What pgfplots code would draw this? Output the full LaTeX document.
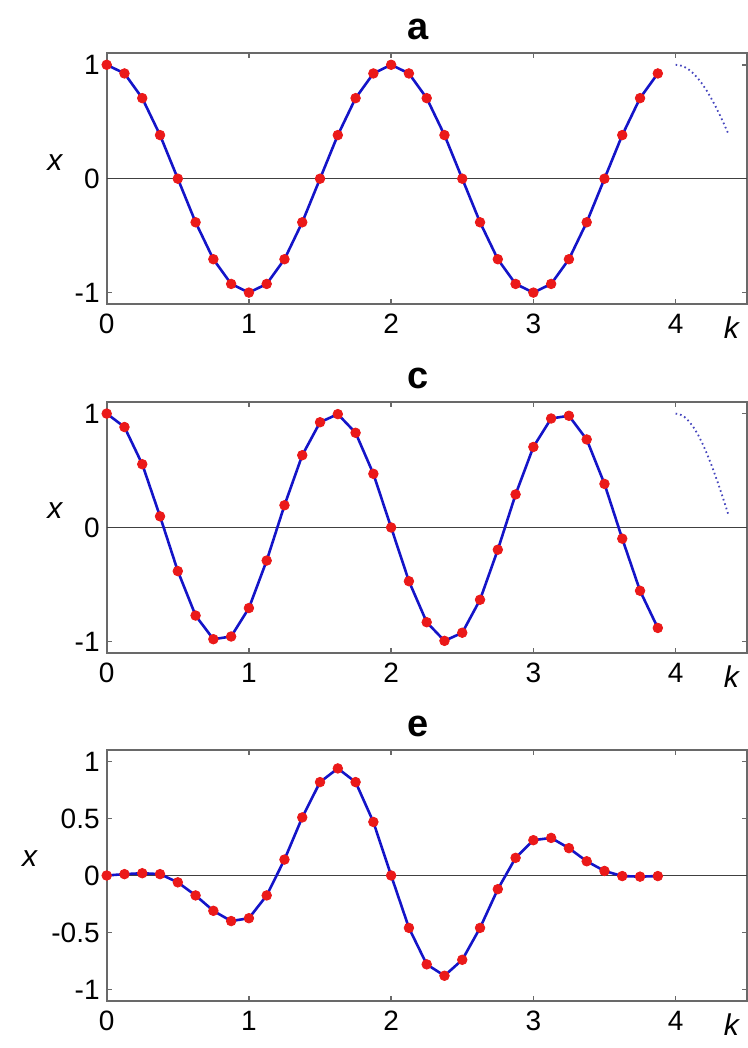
\documentclass[border=0pt]{standalone}
\usepackage{fontspec}
\setmainfont{Liberation Sans}
\usepackage{pgfplots}
\usepackage{pgfplotstable}
\pgfplotsset{compat=1.18}

\definecolor{mblue}{RGB}{20,20,200}
\definecolor{mred}{RGB}{235,25,25}
\definecolor{framegray}{RGB}{105,105,105}
\definecolor{dotblue}{RGB}{70,70,190}

\pgfplotstableread{
k x
0 1
0.125 0.9239
0.25 0.7071
0.375 0.3827
0.5 0
0.625 -0.3827
0.75 -0.7071
0.875 -0.9239
1 -1
1.125 -0.9239
1.25 -0.7071
1.375 -0.3827
1.5 0
1.625 0.3827
1.75 0.7071
1.875 0.9239
2 1
2.125 0.9239
2.25 0.7071
2.375 0.3827
2.5 0
2.625 -0.3827
2.75 -0.7071
2.875 -0.9239
3 -1
3.125 -0.9239
3.25 -0.7071
3.375 -0.3827
3.5 0
3.625 0.3827
3.75 0.7071
3.875 0.9239
}\dataA

\pgfplotstableread{
k x
4 1
4.03125 0.9952
4.0625 0.9808
4.09375 0.9569
4.125 0.9239
4.15625 0.8819
4.1875 0.8315
4.21875 0.7730
4.25 0.7071
4.28125 0.6344
4.3125 0.5556
4.34375 0.4714
4.375 0.3827
}\dotA

\pgfplotstableread{
k x
0 1
0.125 0.8819
0.25 0.5556
0.375 0.0980
0.5 -0.3827
0.625 -0.7730
0.75 -0.9808
0.875 -0.9569
1 -0.7071
1.125 -0.2903
1.25 0.1951
1.375 0.6344
1.5 0.9239
1.625 0.9952
1.75 0.8315
1.875 0.4714
2 0
2.125 -0.4714
2.25 -0.8315
2.375 -0.9952
2.5 -0.9239
2.625 -0.6344
2.75 -0.1951
2.875 0.2903
3 0.7071
3.125 0.9569
3.25 0.9808
3.375 0.7730
3.5 0.3827
3.625 -0.0980
3.75 -0.5556
3.875 -0.8819
}\dataC

\pgfplotstableread{
k x
4 1
4.03125 0.9925
4.0625 0.9700
4.09375 0.9330
4.125 0.8819
4.15625 0.8176
4.1875 0.7410
4.21875 0.6532
4.25 0.5556
4.28125 0.4496
4.3125 0.3369
4.34375 0.2191
4.375 0.0980
}\dotC

\pgfplotstableread{
k x
0 0
0.125 0.012
0.25 0.02
0.375 0.012
0.5 -0.06
0.625 -0.175
0.75 -0.31
0.875 -0.40
1 -0.375
1.125 -0.175
1.25 0.14
1.375 0.51
1.5 0.82
1.625 0.94
1.75 0.82
1.875 0.47
2 0
2.125 -0.46
2.25 -0.78
2.375 -0.88
2.5 -0.74
2.625 -0.46
2.75 -0.12
2.875 0.155
3 0.31
3.125 0.33
3.25 0.24
3.375 0.125
3.5 0.04
3.625 -0.005
3.75 -0.01
3.875 -0.005
}\dataE

\pgfplotsset{
  panel/.style={
    scale only axis, width=320pt, height=125.3pt,
    xmin=0, xmax=4.5, ymin=-1.1, ymax=1.1,
    xtick={0,1,2,3,4},
    tick align=inside, major tick length=2.5pt,
    axis line style={draw=framegray, line width=1.1pt},
    every tick/.style={framegray, line width=0.8pt},
    tick label style={font=\fontsize{14}{16}\selectfont},
    xticklabel style={yshift=-1.5pt},
    /pgf/number format/assume math mode=true,
    xlabel={\itshape k}, ylabel={\itshape x},
    every axis x label/.style={at={(rel axis cs:0.976,0)}, anchor=north, yshift=-3pt, font=\fontsize{15}{17}\selectfont},
    every axis y label/.style={at={(rel axis cs:-0.081,0.566)}, anchor=center, font=\fontsize{15}{17}\selectfont},
    every axis title/.style={at={(rel axis cs:0.486,1)}, anchor=base, yshift=7pt, font=\bfseries\fontsize{19}{21}\selectfont},
    clip=false,
  },
  zeroline/.style={black!75, line width=0.8pt, forget plot},
  curve/.style={mblue, line width=1.3pt},
  dots/.style={only marks, mark=*, mark size=2.4pt, mred, mark options={fill=mred, draw=mred}},
  ext/.style={dotblue, line width=0.9pt, dash pattern=on 0.8pt off 1.5pt},
}

\begin{document}
\begin{tikzpicture}
\useasboundingbox (0,0) rectangle (374pt,524pt);

\begin{axis}[panel, at={(53.35pt,372pt)}, anchor=south west, title={a}, ytick={-1,0,1}]
\addplot[zeroline] coordinates {(0,0) (4.5,0)};
\addplot[curve] table[x=k,y=x] {\dataA};
\addplot[ext] table[x=k,y=x] {\dotA};
\addplot[dots] table[x=k,y=x] {\dataA};
\end{axis}

\begin{axis}[panel, at={(53.35pt,197.6pt)}, anchor=south west, title={c}, ytick={-1,0,1}]
\addplot[zeroline] coordinates {(0,0) (4.5,0)};
\addplot[curve] table[x=k,y=x] {\dataC};
\addplot[ext] table[x=k,y=x] {\dotC};
\addplot[dots] table[x=k,y=x] {\dataC};
\end{axis}

\begin{axis}[panel, at={(53.35pt,23.6pt)}, anchor=south west, title={e}, ytick={-1,-0.5,0,0.5,1},
  every axis y label/.style={at={(rel axis cs:-0.1206,0.566)}, anchor=center, font=\fontsize{15}{17}\selectfont}]
\addplot[zeroline] coordinates {(0,0) (4.5,0)};
\addplot[curve] table[x=k,y=x] {\dataE};
\addplot[dots] table[x=k,y=x] {\dataE};
\end{axis}
\end{tikzpicture}
\end{document}
